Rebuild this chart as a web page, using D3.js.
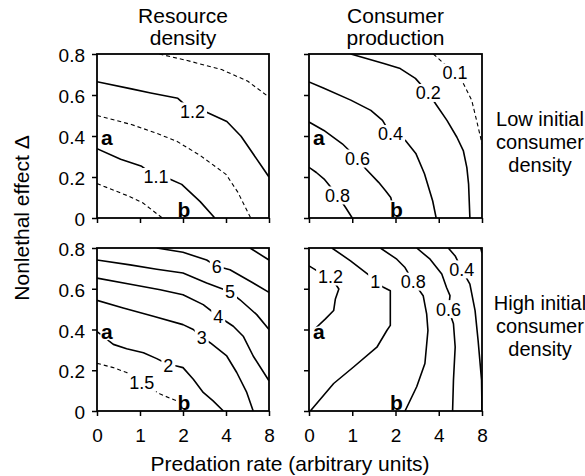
<!DOCTYPE html>
<html><head><meta charset="utf-8">
<script src="https://cdn.jsdelivr.net/npm/d3@7"></script>
<style>
body{margin:0;background:#fff}
text{font-family:"Liberation Sans",Arial,Helvetica,sans-serif;fill:#000}
</style>
</head><body>
<svg id="c" width="585" height="476"></svg>
<script>
// ---------- data ----------
const xTicks = [0, 1, 2, 4, 8];
const xTickLabels = ["0", "1", "2", "4", "8"];
const yTicks = [0, 0.2, 0.4, 0.6, 0.8];
const yTickLabels = ["0", "0.2", "0.4", "0.6", "0.8"];
const columnTitles = [["Resource", "density"], ["Consumer", "production"]];
const rowTitles = [["Low initial", "consumer", "density"], ["High initial", "consumer", "density"]];
const xAxisTitle = "Predation rate (arbitrary units)";
const yAxisTitle = "Nonlethal effect \u0394";
const markerA = {text: "a", x: 0, y: 0.4};
const markerB = {text: "b", x: 2, y: 0};

// contours: x = predation rate, y = nonlethal effect
const resourceLow = [
  {level: "1.25", dashed: true,  points: [[1.45,0.8],[2.2,0.768],[3.8,0.724],[6.0,0.668],[8,0.59]]},
  {level: "1.2",  dashed: false, points: [[0,0.665],[0.8,0.63],[1.25,0.61],[1.88,0.584],[2.44,0.52],[3.1,0.516],[4.08,0.471],[5.4,0.399],[8,0.2]], label: [2.44,0.52]},
  {level: "1.15", dashed: true,  points: [[0,0.5],[0.8,0.456],[1.3,0.42],[1.85,0.375],[2.8,0.305],[4.0,0.213],[5.1,0.126],[6.3,0]]},
  {level: "1.1",  dashed: false, points: [[0,0.338],[0.55,0.287],[1.04,0.252],[1.37,0.2],[1.70,0.189],[1.97,0.164],[2.8,0.08],[3.48,0]], label: [1.37,0.2]},
  {level: "1.05", dashed: true,  points: [[0,0.168],[0.72,0.108],[1.07,0.073],[1.52,0]]}
];
const productionLow = [
  {level: "0.1", dashed: true,  points: [[3.75,0.8],[4.29,0.762],[5.5,0.71],[6.25,0.659],[7.05,0.574],[7.5,0.476],[8,0.363]], label: [5.5,0.71]},
  {level: "0.2", dashed: false, points: [[0.966,0.8],[1.73,0.754],[2.22,0.729],[2.92,0.681],[3.52,0.61],[3.9,0.55],[4.76,0.476],[5.68,0.394],[6.28,0.327],[6.6,0.246],[6.76,0.165],[6.88,0]], label: [3.52,0.61]},
  {level: "0.4", dashed: false, points: [[0,0.664],[0.345,0.633],[0.966,0.575],[1.43,0.525],[1.70,0.476],[1.885,0.41],[2.46,0.378],[2.94,0.315],[3.34,0.216],[3.72,0.083],[3.88,0]], label: [1.885,0.41]},
  {level: "0.6", dashed: false, points: [[0,0.468],[0.345,0.427],[0.77,0.362],[1.12,0.29],[1.31,0.24],[1.61,0.174],[1.77,0.133],[1.89,0.10],[2.02,0]], label: [1.12,0.29]},
  {level: "0.8", dashed: false, points: [[0,0.247],[0.17,0.222],[0.35,0.19],[0.66,0.11],[0.85,0.05],[1.0,0]], label: [0.66,0.11]}
];
const resourceHigh = [
  {level: "7",   dashed: false, points: [[6.23,0.8],[8,0.741]]},
  {level: "6",   dashed: false, points: [[1.39,0.8],[2.0,0.779],[3.1,0.741],[3.57,0.71],[4.37,0.693],[6.53,0.628],[8,0.582]], label: [3.57,0.71]},
  {level: "5",   dashed: false, points: [[0,0.741],[0.77,0.717],[1.39,0.696],[2.0,0.677],[3.1,0.628],[4.37,0.585],[5.3,0.546],[6.86,0.473],[8,0.4]], label: [4.37,0.585]},
  {level: "4",   dashed: false, points: [[0,0.652],[0.84,0.62],[1.47,0.595],[2.0,0.571],[2.94,0.522],[3.64,0.465],[4.68,0.416],[5.6,0.367],[6.53,0.27],[8,0.148]], label: [3.64,0.465]},
  {level: "3",   dashed: false, points: [[0,0.543],[0.61,0.506],[1.31,0.465],[2.0,0.424],[2.48,0.4],[2.87,0.363],[3.26,0.335],[4.07,0.27],[5.0,0.189],[5.93,0.091],[6.53,0]], label: [2.87,0.363]},
  {level: "2",   dashed: false, points: [[0,0.39],[0.38,0.327],[0.69,0.306],[1.08,0.286],[1.39,0.257],[1.66,0.228],[1.85,0.221],[2.0,0.213],[2.48,0.156],[2.94,0.091],[3.4,0.05],[3.88,0]], label: [1.66,0.225]},
  {level: "1.5", dashed: true,  points: [[0,0.234],[0.38,0.213],[0.69,0.189],[1.04,0.138],[1.47,0.083],[1.85,0.05],[2.0,0.03]], label: [1.04,0.138]}
];
const productionHigh = [
  {level: "1.2", dashed: false, points: [[0,0.712],[0.19,0.688],[0.5,0.66],[0.69,0.599],[0.61,0.55],[0.57,0.493],[0.38,0.452],[0.12,0.4]], label: [0.5,0.66]},
  {level: "1",   dashed: false, points: [[0.53,0.8],[0.96,0.737],[1.41,0.663],[1.53,0.636],[1.72,0.607],[1.88,0.59],[1.88,0.42],[1.80,0.395],[1.57,0.313],[1.03,0.216],[0.57,0.135],[0.03,0]], label: [1.53,0.636]},
  {level: "0.8", dashed: false, points: [[1.65,0.8],[2.06,0.745],[2.44,0.704],[2.82,0.635],[3.28,0.566],[3.44,0.477],[3.5,0.395],[3.36,0.233],[2.98,0.119],[2.44,0]], label: [2.82,0.635]},
  {level: "0.6", dashed: false, points: [[2.98,0.8],[3.6,0.745],[4.28,0.672],[4.72,0.606],[5.04,0.566],[4.9,0.5],[5.36,0.428],[5.52,0.314],[5.36,0.151],[5.28,0]], label: [4.9,0.5]},
  {level: "0.4", dashed: false, points: [[4.88,0.8],[5.52,0.761],[6.12,0.695],[6.88,0.623],[7.36,0.493],[7.64,0.346],[7.96,0.151],[8,0]], label: [6.12,0.695]},
  {level: "0.2", dashed: false, points: [[7.88,0.8],[8,0.775]]}
];

// ---------- layout ----------
const colX = [[97, 269], [309, 482]];
const rowY = [[54, 218], [248, 411]];
const panels = [
  {contours: resourceLow,    col: 0, row: 0},
  {contours: productionLow,  col: 1, row: 0},
  {contours: resourceHigh,   col: 0, row: 1},
  {contours: productionHigh, col: 1, row: 1}
];

const svg = d3.select("#c");
svg.append("rect").attr("width", 585).attr("height", 476).attr("fill", "#fff");

panels.forEach((p, pi) => {
  const [x0, x1] = colX[p.col];
  const [y0, y1] = rowY[p.row];
  const x = d3.scaleLinear().domain(xTicks).range(xTicks.map((d, i) => x0 + i * (x1 - x0) / (xTicks.length - 1)));
  const y = d3.scaleLinear().domain([0, 0.8]).range([y1, y0]);
  const g = svg.append("g");

  g.append("clipPath").attr("id", "clip" + pi)
    .append("rect").attr("x", x0).attr("y", y0).attr("width", x1 - x0).attr("height", y1 - y0);

  const line = d3.line().x(d => x(d[0])).y(d => y(d[1]));
  const lines = g.append("g").attr("clip-path", `url(#clip${pi})`);
  p.contours.forEach(c => {
    lines.append("path").attr("d", line(c.points))
      .attr("fill", "none").attr("stroke", "#000")
      .attr("stroke-width", c.dashed ? 1.1 : 1.6)
      .attr("stroke-dasharray", c.dashed ? "4,3" : null)
      .attr("stroke-linejoin", "round");
  });

  // contour labels
  p.contours.filter(c => c.label).forEach(c => {
    const lg = g.append("g");
    const t = lg.append("text")
      .attr("x", x(c.label[0])).attr("y", y(c.label[1]))
      .attr("dy", "0.36em").attr("text-anchor", "middle")
      .attr("font-size", 18).text(c.level);
    const bb = t.node().getBBox();
    lg.insert("rect", "text")
      .attr("x", bb.x - 2).attr("width", bb.width + 4)
      .attr("y", y(c.label[1]) - 9).attr("height", 18)
      .attr("fill", "#fff");
  });

  // markers a / b
  g.append("text").attr("x", x(markerA.x) + 4).attr("y", y(markerA.y) + 9)
    .attr("font-size", 21).attr("font-weight", "bold")
    .attr("stroke", "#fff").attr("stroke-width", 3).attr("paint-order", "stroke")
    .text(markerA.text);
  g.append("text").attr("x", x(markerB.x) + 1).attr("y", y(markerB.y) - 1)
    .attr("text-anchor", "middle")
    .attr("font-size", 21).attr("font-weight", "bold")
    .attr("stroke", "#fff").attr("stroke-width", 3).attr("paint-order", "stroke")
    .text(markerB.text);

  // frame
  g.append("rect").attr("x", x0).attr("y", y0).attr("width", x1 - x0).attr("height", y1 - y0)
    .attr("fill", "none").attr("stroke", "#000").attr("stroke-width", 1.8);

  // axes
  const xa = d3.axisBottom(x).tickValues(xTicks).tickSize(5).tickSizeOuter(0).tickPadding(13)
    .tickFormat((d, i) => p.row === 1 ? xTickLabels[i] : "");
  const gx = g.append("g").attr("transform", `translate(0,${y1})`).call(xa);
  const ya = d3.axisLeft(y).tickValues(yTicks).tickSize(5).tickSizeOuter(0).tickPadding(7)
    .tickFormat((d, i) => p.col === 0 ? yTickLabels[i] : "");
  const gy = g.append("g").attr("transform", `translate(${x0},0)`).call(ya);
  [gx, gy].forEach(a => {
    a.select(".domain").remove();
    a.selectAll("line").attr("stroke", "#000").attr("stroke-width", 1.5);
    a.selectAll("text").attr("font-size", 19).attr("fill", "#000")
      .style("font-family", '"Liberation Sans",Arial,sans-serif');
  });
  gy.selectAll("text").attr("dy", "0.4em");
});

// column titles
columnTitles.forEach((lines, ci) => {
  const cx = (colX[ci][0] + colX[ci][1]) / 2;
  lines.forEach((s, li) => {
    svg.append("text").attr("x", cx).attr("y", 23 + li * 22)
      .attr("text-anchor", "middle").attr("font-size", 21).text(s);
  });
});
// row titles
const rowBase = [126, 310];
rowTitles.forEach((lines, ri) => {
  lines.forEach((s, li) => {
    svg.append("text").attr("x", 540).attr("y", rowBase[ri] + li * 23)
      .attr("text-anchor", "middle").attr("font-size", 20).text(s);
  });
});
// axis titles
svg.append("text").attr("x", 290).attr("y", 471).attr("text-anchor", "middle")
  .attr("font-size", 21).text(xAxisTitle);
svg.append("text").attr("transform", "translate(29,218) rotate(-90)")
  .attr("text-anchor", "middle").attr("font-size", 21).text(yAxisTitle);
</script>
</body></html>
